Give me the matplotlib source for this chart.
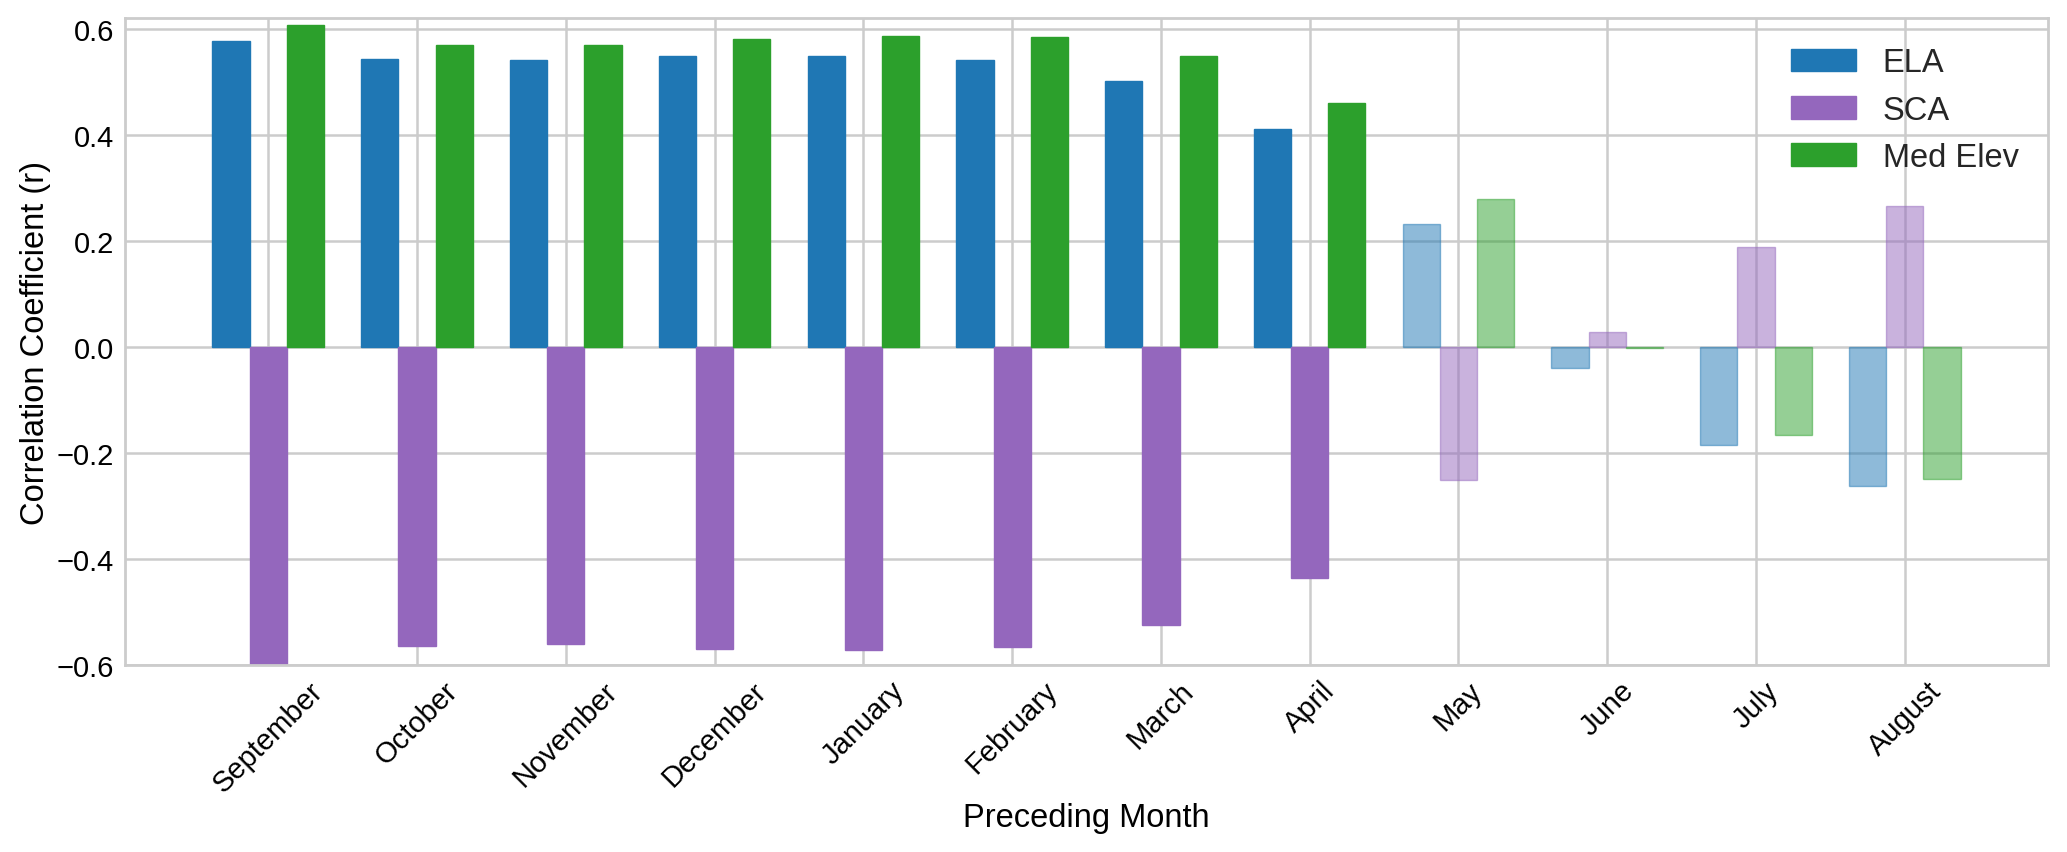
#!/usr/bin/env python

import numpy
import matplotlib
matplotlib.use('Agg')
import matplotlib.pyplot as plt

months = ['September', 'October', 'November', 'December', 'January',
          'February', 'March', 'April', 'May', 'June', 'July', 'August']
ela = [0.576, 0.542, 0.540, 0.549, 0.549, 0.540, 0.501, 0.411,
       0.232, -0.039, -0.186, -0.262]
sca = [-0.598, -0.564, -0.561, -0.569, -0.572, -0.566, -0.525, -0.435,
       -0.251, 0.028, 0.189, 0.265]
med_elev = [0.607, 0.570, 0.570, 0.581, 0.586, 0.584, 0.549, 0.460,
            0.278, -0.002, -0.167, -0.250]
series_names = ['ELA', 'SCA', 'Med Elev']
yticks = [-0.6, -0.4, -0.2, 0.0, 0.2, 0.4, 0.6]
faded_from = 'May'


def draw_correlation_bars():
    plt.style.use('seaborn-v0_8-whitegrid')
    plt.rcParams['font.family'] = ['Liberation Sans', 'DejaVu Sans']
    plt.rcParams['axes.unicode_minus'] = True

    fig = plt.figure(figsize=(20.67, 8.53), dpi=100)
    ax = fig.add_axes([0.0605, 0.2192, 0.9303, 0.7585])

    x = numpy.arange(len(months))
    width = 0.25
    colors = ['tab:blue', 'tab:purple', 'tab:green']
    start_fade = months.index(faded_from)
    #
    ##
    for k, (values, name, color) in enumerate(zip([ela, sca, med_elev],
                                                  series_names, colors)):
        bars = ax.bar(x + (k - 1) * width, values, width, label=name,
                      color=color, edgecolor=color, linewidth=1.0)
        for patch in bars.patches[start_fade:]:
            patch.set_alpha(0.5)

    ax.set_axisbelow(True)
    ax.grid(True, color='#cccccc', linewidth=1.8)
    for spine in ax.spines.values():
        spine.set_color('#cccccc')
        spine.set_linewidth(2.0)
        spine.set_visible(True)

    ax.set_ylim(-0.6, 0.62)
    ax.set_yticks(yticks)
    ax.set_yticklabels([('%.1f' % t).replace('-', '\u2212') for t in yticks])
    ax.set_xticks(x)
    ax.set_xticklabels(months, rotation=45, ha='center')
    ax.tick_params(axis='both', labelsize=21, pad=8, length=0,
                   labelcolor='black')

    ax.set_xlabel('Preceding Month', fontsize=23.5, color='black')
    ax.set_ylabel('Correlation Coefficient (r)', fontsize=23.5,
                  color='black')
    ax.legend(loc='upper right', frameon=False, fontsize=23.5)

    fig.savefig('out.png', dpi=100)
    plt.close(fig)


if __name__ == '__main__':
    draw_correlation_bars()
